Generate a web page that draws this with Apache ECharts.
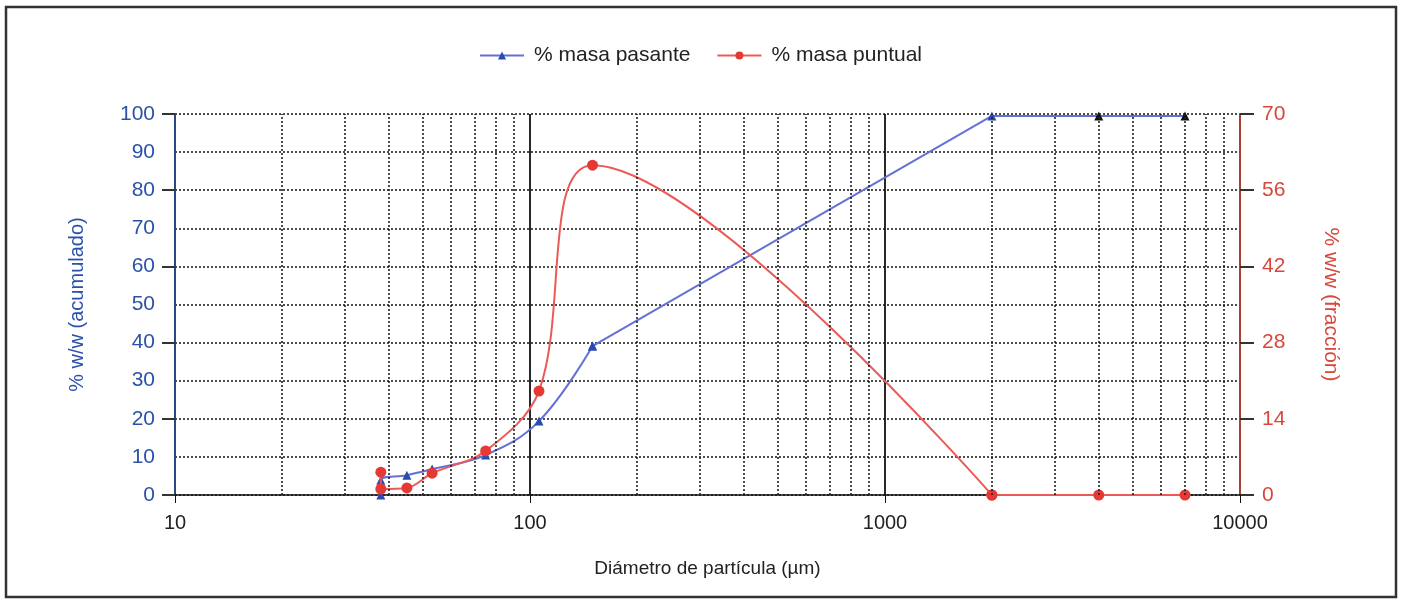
<!DOCTYPE html>
<html>
<head>
<meta charset="utf-8">
<script src="https://cdn.jsdelivr.net/npm/echarts@6/dist/echarts.min.js"></script>
<style>
  html, body { margin: 0; padding: 0; background: #fff; }
  #main { width: 1401px; height: 600px; }
</style>
</head>
<body>
<div id="main"></div>
<script>
// particle size (µm) and readings
var diameters = [38, 38, 45, 53, 75, 106, 150, 2000, 4000, 7000];
var pasante = [0, 3.9, 5.2, 6.8, 10.5, 19.4, 39.1, 99.5, 99.5, 99.5];
var puntual = [4.2, 1.1, 1.3, 4.0, 8.1, 19.1, 60.6, 0, 0, 0];
// dotted minor grid lines of the log axis
var minorLines = [20, 30, 40, 50, 60, 70, 80, 90,
  200, 300, 400, 500, 600, 700, 800, 900,
  2000, 3000, 4000, 5000, 6000, 7000, 8000, 9000];

var FONT = "'Liberation Sans Narrow', 'Liberation Sans', Arial, sans-serif";
var BLUE = "#2b52a8";
var RED = "#d9473a";

var chart = echarts.init(document.getElementById("main"));

function pairs(ys) {
  return diameters.map(function (d, i) { return [d, ys[i]]; });
}

var bluePts = pairs(pasante).map(function (p, i) {
  // the top points look black in the scan
  if (pasante[i] > 99 && diameters[i] > 2000) {
    return { value: p, itemStyle: { color: "#111" } };
  }
  return p;
});
var redPts = pairs(puntual);

// the curve is only smoothed over the fine sizes, the coarse part is straight
var blueStyle = { color: "#6470d4", width: 2 };
var redStyle = { color: "#ec5a57", width: 2 };

var option = {
  animation: false,
  backgroundColor: "#fff",
  graphic: [{
    type: "rect",
    shape: { x: 6, y: 7, width: 1390, height: 590 },
    style: { fill: "none", stroke: "#333", lineWidth: 2.5 },
    silent: true
  }],
  legend: {
    top: 40,
    left: "center",
    itemWidth: 44,
    itemHeight: 10,
    itemGap: 26,
    textStyle: { fontFamily: FONT, fontSize: 21, color: "#222", padding: [0, 0, 0, 5] },
    data: ["% masa pasante", "% masa puntual"]
  },
  grid: { left: 175, right: 161, top: 114, bottom: 105 },
  xAxis: {
    type: "log",
    logBase: 10,
    min: 10,
    max: 10000,
    name: "Diámetro de partícula (µm)",
    nameLocation: "middle",
    nameGap: 64,
    nameTextStyle: { fontFamily: FONT, fontSize: 19, color: "#222" },
    axisLine: { lineStyle: { color: "#111", width: 1.5 } },
    axisTick: { show: true, length: 8, lineStyle: { color: "#111" } },
    axisLabel: {
      fontFamily: FONT, fontSize: 20, color: "#222", margin: 18,
      formatter: function (v) { return String(Math.round(v)); }
    },
    splitLine: { show: true, lineStyle: { color: "#111", width: 1.8, type: "solid" } },
    minorTick: { show: false },
    minorSplitLine: { show: false }
  },
  yAxis: [{
    type: "value",
    min: 0,
    max: 100,
    interval: 10,
    position: "left",
    name: "% w/w (acumulado)",
    nameLocation: "middle",
    nameGap: 88,
    nameTextStyle: { fontFamily: FONT, fontSize: 20, color: BLUE },
    axisLine: { show: true, lineStyle: { color: BLUE, width: 1.5 } },
    axisTick: { show: false },
    axisLabel: { fontFamily: FONT, fontSize: 21, color: BLUE, margin: 20 },
    splitLine: { show: true, lineStyle: { color: "#222", width: 1.6, type: [2, 2] } }
  }, {
    type: "value",
    min: 0,
    max: 70,
    interval: 14,
    position: "right",
    name: "% w/w (fracción)",
    nameLocation: "middle",
    nameGap: 80,
    nameRotate: -90,
    nameTextStyle: { fontFamily: FONT, fontSize: 21, color: RED },
    axisLine: { show: true, lineStyle: { color: RED, width: 1.5 } },
    axisTick: { show: true, length: 14, lineStyle: { color: "#333", width: 2 } },
    axisLabel: { fontFamily: FONT, fontSize: 21, color: RED, margin: 22 },
    splitLine: { show: false }
  }, {
    // only the long ticks every 20 on the left
    type: "value",
    min: 0,
    max: 100,
    interval: 20,
    position: "left",
    axisLine: { show: false },
    axisTick: { show: true, length: 13, lineStyle: { color: "#333", width: 2 } },
    axisLabel: { show: false },
    splitLine: { show: false }
  }],
  series: [{
    name: "minor",
    type: "line",
    data: [],
    z: 1,
    silent: true,
    markLine: {
      silent: true,
      symbol: "none",
      label: { show: false },
      lineStyle: { color: "#222", width: 1.6, type: [2, 2] },
      data: minorLines.map(function (v) { return { xAxis: v }; })
    }
  }, {
    name: "% masa pasante",
    type: "line",
    yAxisIndex: 0,
    smooth: 0.4,
    symbol: "triangle",
    symbolSize: 9,
    lineStyle: blueStyle,
    itemStyle: { color: "#2a4bb0" },
    data: bluePts.slice(0, 7),
    z: 3
  }, {
    name: "% masa pasante",
    type: "line",
    yAxisIndex: 0,
    smooth: false,
    symbol: "triangle",
    symbolSize: 9,
    lineStyle: blueStyle,
    itemStyle: { color: "#2a4bb0" },
    data: bluePts.slice(6),
    z: 3
  }, {
    name: "% masa puntual",
    type: "line",
    yAxisIndex: 1,
    smooth: 0.35,
    symbol: "circle",
    symbolSize: 11,
    lineStyle: redStyle,
    itemStyle: { color: "#e53935" },
    data: redPts.slice(0, 8),
    z: 4
  }, {
    name: "% masa puntual",
    type: "line",
    yAxisIndex: 1,
    smooth: false,
    symbol: "circle",
    symbolSize: 11,
    lineStyle: redStyle,
    itemStyle: { color: "#e53935" },
    data: redPts.slice(7),
    z: 4
  }]
};

chart.setOption(option);
</script>
</body>
</html>
